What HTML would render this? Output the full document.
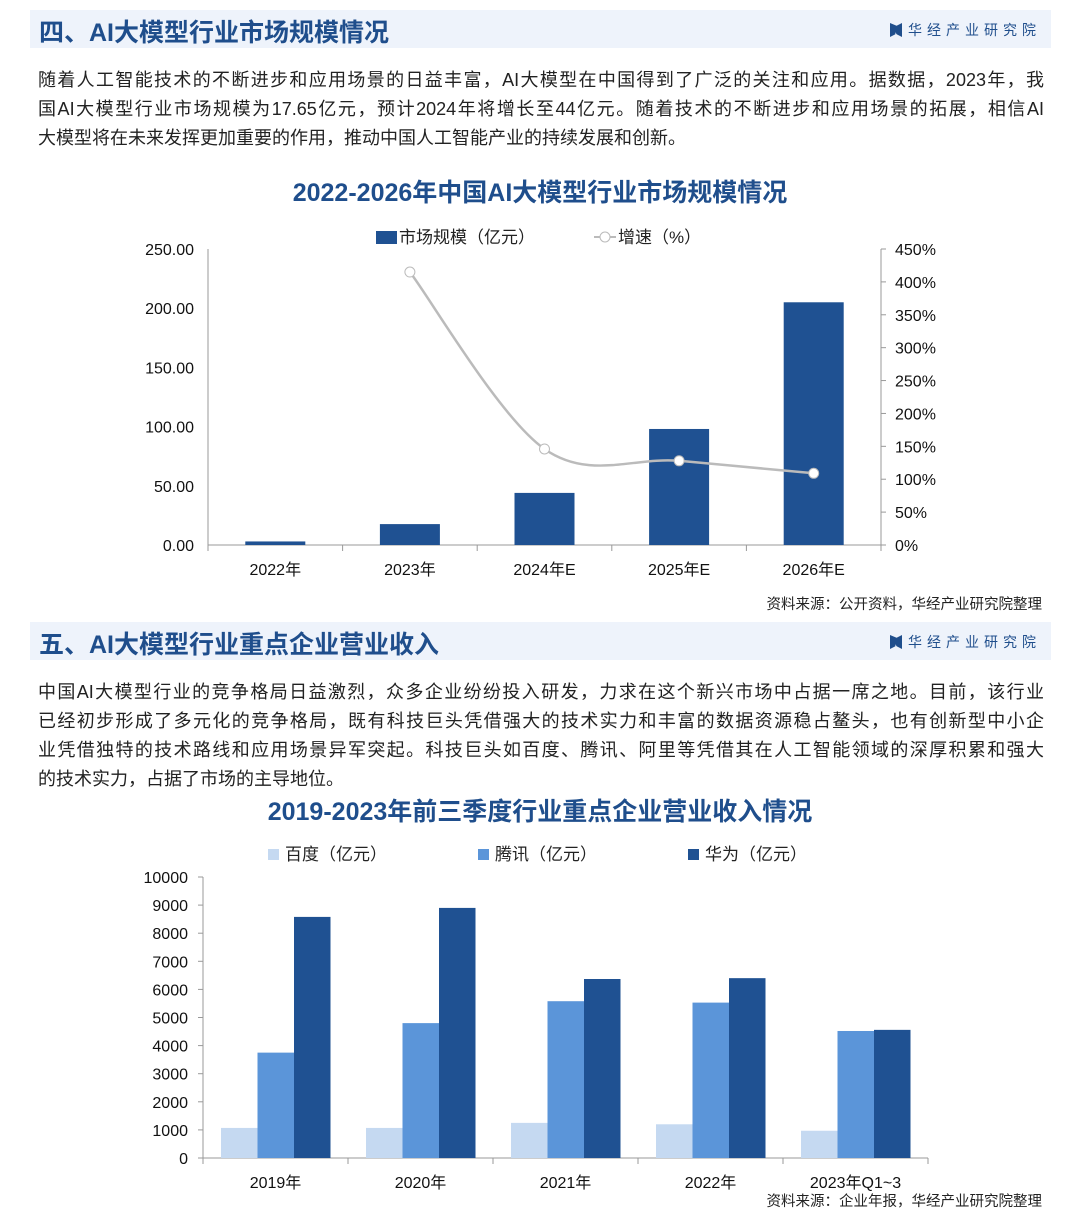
<!DOCTYPE html>
<html><head><meta charset="utf-8">
<style>
body{margin:0;width:1080px;height:1215px;background:#fff;overflow:hidden;font-family:"Liberation Sans","Noto Sans CJK SC",sans-serif;position:relative}
.hdr{position:absolute;left:30px;width:1021px;height:38px;background:#eef3fb}
.hdr h2{margin:0;position:absolute;left:9px;top:3px;font-size:25px;color:#1f4e8c;font-weight:bold;font-family:"Liberation Sans","Noto Sans CJK SC",sans-serif}
.brand{position:absolute;right:10px;top:10px;font-size:14px;color:#1f4e8c;letter-spacing:5px}
.brand i{display:inline-block;width:12px;height:14px;background:#1f4e8c;vertical-align:-2px;margin-right:6px;clip-path:polygon(0 0,45% 20%,45% 80%,0 100%,0 0,55% 20%,100% 0,100% 100%,55% 80%)}
.para{position:absolute;left:38px;width:1006px;margin:0;font-size:18px;line-height:29px;color:#222}
.para div{text-align:justify;text-align-last:justify;white-space:nowrap}
.para div.last{text-align-last:left}
.src{position:absolute;right:38px;font-size:14.5px;color:#222}
</style></head><body>
<div class="hdr" style="top:10px"><h2>四、AI大模型行业市场规模情况</h2><div class="brand"><i></i>华经产业研究院</div></div>
<div class="para" style="top:66px">
<div>随着人工智能技术的不断进步和应用场景的日益丰富，AI大模型在中国得到了广泛的关注和应用。据数据，2023年，我</div>
<div>国AI大模型行业市场规模为17.65亿元，预计2024年将增长至44亿元。随着技术的不断进步和应用场景的拓展，相信AI</div>
<div class="last">大模型将在未来发挥更加重要的作用，推动中国人工智能产业的持续发展和创新。</div>
</div>
<svg id="c1" style="position:absolute;left:0;top:170px" width="1080" height="420"></svg>
<div class="src" style="top:593px">资料来源：公开资料，华经产业研究院整理</div>
<div class="hdr" style="top:622px"><h2>五、AI大模型行业重点企业营业收入</h2><div class="brand"><i></i>华经产业研究院</div></div>
<div class="para" style="top:678px">
<div>中国AI大模型行业的竞争格局日益激烈，众多企业纷纷投入研发，力求在这个新兴市场中占据一席之地。目前，该行业</div>
<div>已经初步形成了多元化的竞争格局，既有科技巨头凭借强大的技术实力和丰富的数据资源稳占鳌头，也有创新型中小企</div>
<div>业凭借独特的技术路线和应用场景异军突起。科技巨头如百度、腾讯、阿里等凭借其在人工智能领域的深厚积累和强大</div>
<div class="last">的技术实力，占据了市场的主导地位。</div>
</div>
<svg id="c2" style="position:absolute;left:0;top:790px" width="1080" height="405"></svg>
<div class="src" style="top:1190px">资料来源：企业年报，华经产业研究院整理</div>
<script>
const NS="http://www.w3.org/2000/svg";
function mk(svg,tag,a,txt){const e=document.createElementNS(NS,tag);for(const k in a)e.setAttribute(k,a[k]);if(txt!==undefined)e.textContent=txt;svg.appendChild(e);return e;}
// chart 1 data
const years1=["2022年","2023年","2024年E","2025年E","2026年E"];
const marketSize=[3,17.65,44,98,205];
const growth=[null,415,146,128,109];
const leftTicks=["0.00","50.00","100.00","150.00","200.00","250.00"];
const rightTicks=["0%","50%","100%","150%","200%","250%","300%","350%","400%","450%"];
(function(){
const s=document.getElementById('c1');
const L=208,R=881,B=375,T=79;
const y=v=>B-(v/250)*(B-T), y2=v=>B-(v/450)*(B-T), cw=(R-L)/years1.length;
let t=mk(s,'text',{x:540,y:31,'text-anchor':'middle','font-size':25,'font-weight':'bold',fill:'#1f4e8c'},'2022-2026年中国AI大模型行业市场规模情况');

let g=mk(s,'g',{});
mk(g,'rect',{x:376,y:61,width:21,height:13,fill:'#1f5192'});
mk(g,'text',{x:399,y:73,'font-size':17,fill:'#222'},'市场规模（亿元）');
mk(g,'line',{x1:594,y1:67,x2:616,y2:67,stroke:'#bbb','stroke-width':2});
mk(g,'circle',{cx:605,cy:67,r:5,fill:'#fff',stroke:'#bbb'});
mk(g,'text',{x:618,y:73,'font-size':17,fill:'#222'},'增速（%）');
mk(s,'line',{x1:L,y1:T,x2:L,y2:B,stroke:'#999'});
mk(s,'line',{x1:R,y1:T,x2:R,y2:B,stroke:'#999'});
mk(s,'line',{x1:L,y1:B,x2:R,y2:B,stroke:'#999'});
leftTicks.forEach(v=>{const e=mk(s,'text',{x:194,y:y(+v)+6,'text-anchor':'end','font-size':16,fill:'#111'},v);});
rightTicks.forEach(v=>{const yy=y2(parseFloat(v));mk(s,'line',{x1:R,y1:yy,x2:R+5,y2:yy,stroke:'#999'});const e=mk(s,'text',{x:895,y:yy+6,'font-size':16,fill:'#111'},v);});
for(let i=0;i<=years1.length;i++)mk(s,'line',{x1:L+i*cw,y1:B,x2:L+i*cw,y2:B+6,stroke:'#999'});
years1.forEach((c,i)=>{const cx=L+cw*(i+.5);
const b=mk(s,'rect',{x:cx-30,y:y(marketSize[i]),width:60,height:B-y(marketSize[i]),fill:'#1f5192'});

const e=mk(s,'text',{x:cx,y:405,'text-anchor':'middle','font-size':16,fill:'#111'},c);});
const pts=[];growth.forEach((v,i)=>{if(v!==null)pts.push([L+cw*(i+.5),y2(v)]);});
let d='M'+pts[0][0]+','+pts[0][1];
for(let i=0;i<pts.length-1;i++){const p0=pts[i-1]||pts[i],p1=pts[i],p2=pts[i+1],p3=pts[i+2]||p2;
d+=' C'+(p1[0]+(p2[0]-p0[0])/6)+','+(p1[1]+(p2[1]-p0[1])/6)+' '+(p2[0]-(p3[0]-p1[0])/6)+','+(p2[1]-(p3[1]-p1[1])/6)+' '+p2[0]+','+p2[1];}
const ln=mk(s,'path',{d:d,fill:'none',stroke:'#bbb','stroke-width':2.5});
pts.forEach(p=>{const c=mk(s,'circle',{cx:p[0],cy:p[1],r:5,fill:'#fff',stroke:'#bbb','stroke-width':1});});
})();
// chart 2 data
const years2=["2019年","2020年","2021年","2022年","2023年Q1~3"];
const baidu=[1070,1070,1250,1200,970];
const tencent=[3750,4800,5580,5530,4520];
const huawei=[8580,8900,6370,6400,4560];
const ticks2=[0,1000,2000,3000,4000,5000,6000,7000,8000,9000,10000];
(function(){
const s=document.getElementById('c2');
const L=203,R=928,B=368,T=87;
const y=v=>B-(v/10000)*(B-T), cw=(R-L)/years2.length;
let t=mk(s,'text',{x:540,y:30,'text-anchor':'middle','font-size':25,'font-weight':'bold',fill:'#1f4e8c'},'2019-2023年前三季度行业重点企业营业收入情况');

const ser=[["百度（亿元）",baidu,'#c5d9f1',268],["腾讯（亿元）",tencent,'#5b95d9',478],["华为（亿元）",huawei,'#1f5192',688]];
ser.forEach(([n,,c,lx])=>{const g=mk(s,'g',{});
mk(g,'rect',{x:lx,y:59,width:11,height:11,fill:c});mk(g,'text',{x:lx+17,y:70,'font-size':17,fill:'#222'},n);});
mk(s,'line',{x1:L,y1:T,x2:L,y2:B,stroke:'#999'});
mk(s,'line',{x1:L,y1:B,x2:R,y2:B,stroke:'#999'});
ticks2.forEach(v=>{mk(s,'line',{x1:L-5,y1:y(v),x2:L,y2:y(v),stroke:'#999'});const e=mk(s,'text',{x:188,y:y(v)+6,'text-anchor':'end','font-size':16,fill:'#111'},String(v));});
for(let i=0;i<=years2.length;i++)mk(s,'line',{x1:L+i*cw,y1:B,x2:L+i*cw,y2:B+6,stroke:'#999'});
years2.forEach((c,i)=>{const x0=L+cw*i+18;
ser.forEach(([n,vals,col],k)=>{const b=mk(s,'rect',{x:x0+k*36.5,y:y(vals[i]),width:36.5,height:B-y(vals[i]),fill:col});});
const e=mk(s,'text',{x:L+cw*(i+.5),y:398,'text-anchor':'middle','font-size':16,fill:'#111'},c);});
})();
</script>
</body></html>
